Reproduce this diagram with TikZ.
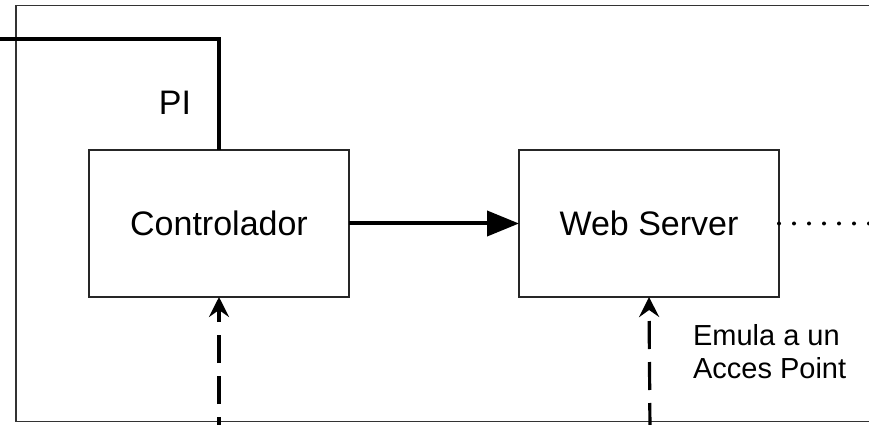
\documentclass[tikz,border=0pt]{standalone}
\usepackage{fontspec}
\setmainfont{Liberation Sans}
\usetikzlibrary{arrows.meta, positioning}

\begin{document}
\begin{tikzpicture}[
    x=0.5pt, y=0.5pt,
    font=\fontsize{17}{20}\selectfont,
    blk/.style={draw=black!85, line width=1pt, minimum width=130pt, minimum height=73.5pt, align=center, outer sep=0pt},
    bus/.style={line width=2.2pt, line join=miter},
    ar/.style={-{Triangle[length=16pt, width=12.5pt]}, line width=2pt},
    up/.style={-{Stealth[length=10pt, width=10pt, inset=3.5pt]}, line width=1.6pt, dash pattern=on 14pt off 6.5pt},
    dots/.style={line width=2pt, line cap=round, dash pattern=on 0pt off 7.5pt}
  ]
  \clip (0,0) rectangle (869,424);
  % open frame, right side runs off the page
  \draw[black!80, line width=0.8pt] (890,418.5) -| (16,2.5) -- (890,2.5);

  \node[blk] (ctrl) at (219,200.5) {Controlador};
  \node[blk, right=85pt of ctrl] (web) {Web Server};

  \coordinate (pin) at (0,385);
  \draw[bus] (pin) -| (ctrl.north);
  \node (pi) at (175,321) {PI};

  \draw[ar] (ctrl) -- (web);
  \coordinate (apout) at (885,200.5);
  \draw[dots] (web.east) -- (apout);

  % inputs coming up from below
  \coordinate (cin) at (219,-21);
  \coordinate (win) at (650,-7);
  \draw[up] (cin) -- (ctrl.south);
  \draw[up] (win) -- (web.south);
  \node[anchor=west, align=left, font=\fontsize{14.5}{16.5}\selectfont] (ap) at (686,72.5) {Emula a un\\Acces Point};
\end{tikzpicture}
\end{document}
